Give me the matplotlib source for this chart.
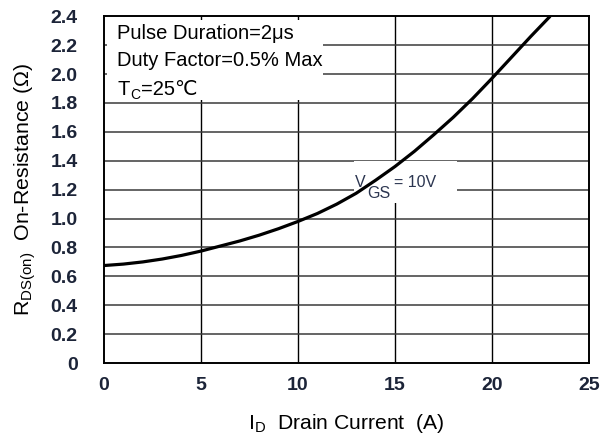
import matplotlib
matplotlib.use("Agg")
import matplotlib.pyplot as plt
from matplotlib.patches import Rectangle

# Rds(on) vs drain current
drain_current = [0, 1, 2, 3, 4, 5, 6, 7, 8, 9, 10, 11, 12,
                 13, 14, 15, 16, 17, 18, 19, 20, 21, 22, 23]
rds_on = [0.675, 0.685, 0.70, 0.72, 0.745, 0.775, 0.81, 0.845, 0.885, 0.93, 0.98, 1.035, 1.10,
          1.175, 1.265, 1.36, 1.465, 1.58, 1.70, 1.83, 1.97, 2.115, 2.26, 2.4]

x_ticks = [0, 5, 10, 15, 20, 25]
y_ticks = [0, 0.2, 0.4, 0.6, 0.8, 1.0, 1.2, 1.4, 1.6, 1.8, 2.0, 2.2, 2.4]
y_tick_labels = ["0", "0.2", "0.4", "0.6", "0.8", "1.0", "1.2", "1.4", "1.6",
                 "1.8", "2.0", "2.2", "2.4"]

plt.rcParams["font.family"] = ["Liberation Sans", "DejaVu Sans"]
plt.rcParams["mathtext.fontset"] = "custom"
plt.rcParams["mathtext.rm"] = "Liberation Sans"
plt.rcParams["mathtext.it"] = "Liberation Sans"

tick_color = "#1c2438"
label_color = "#2b3550"

fig = plt.figure(figsize=(6.01, 4.38), dpi=100)
ax = fig.add_axes([0.173, 0.171, 0.807, 0.792])

ax.set_xlim(0, 25)
ax.set_ylim(0, 2.4)

# grid
for xv in x_ticks[1:-1]:
    ax.axvline(xv, color="black", lw=1.0, zorder=1)
for yv in y_ticks[1:-1]:
    ax.axhline(yv, color="#3a3a3a", lw=1.1, zorder=1)

# white boxes that hide the grid behind the labels
ax.add_patch(Rectangle((0.006, 0.758), 0.446, 0.23, transform=ax.transAxes,
                       facecolor="white", edgecolor="none", zorder=2))
ax.add_patch(Rectangle((12.9, 1.11), 5.3, 0.29, facecolor="white",
                       edgecolor="none", zorder=2))

ax.plot(drain_current, rds_on, color="black", lw=2.3, zorder=4,
        solid_capstyle="butt")

ax.text(0.68, 2.24, "Pulse Duration=2μs", fontsize=14.5, va="baseline", zorder=3)
ax.text(0.68, 2.054, "Duty Factor=0.5% Max", fontsize=14.5, va="baseline", zorder=3)
ax.text(0.68, 1.853, "T", fontsize=14.5, va="baseline", zorder=3)
ax.text(1.38, 1.83, "C", fontsize=10, va="baseline", zorder=3)
ax.text(1.9, 1.853, "=25℃", fontsize=14.5, va="baseline", zorder=3)

ax.text(12.93, 1.25, "V", fontsize=11.5, color=label_color, va="center", zorder=3)
ax.text(13.55, 1.175, "GS", fontsize=11.5, color=label_color, va="center", zorder=3)
ax.text(14.95, 1.25, "= 10V", fontsize=11.5, color=label_color, va="center", zorder=3)

ax.set_xticks(x_ticks)
ax.set_yticks(y_ticks)
ax.set_yticklabels(y_tick_labels)
ax.tick_params(length=0, labelsize=14, colors=tick_color)
ax.tick_params(axis="y", pad=19)
ax.tick_params(axis="x", pad=10)
for lab in ax.get_xticklabels() + ax.get_yticklabels():
    lab.set_fontweight("bold")

for sp in ax.spines.values():
    sp.set_linewidth(1.4)
    sp.set_color("black")

ax.set_xlabel("I$\\mathregular{_D}$  Drain Current  (A)", fontsize=15.2, labelpad=13)
ax.set_ylabel("R$\\mathregular{_{DS(on)}}$  On-Resistance (Ω)", fontsize=15.4, labelpad=9)

fig.savefig("out.png", dpi=100)
